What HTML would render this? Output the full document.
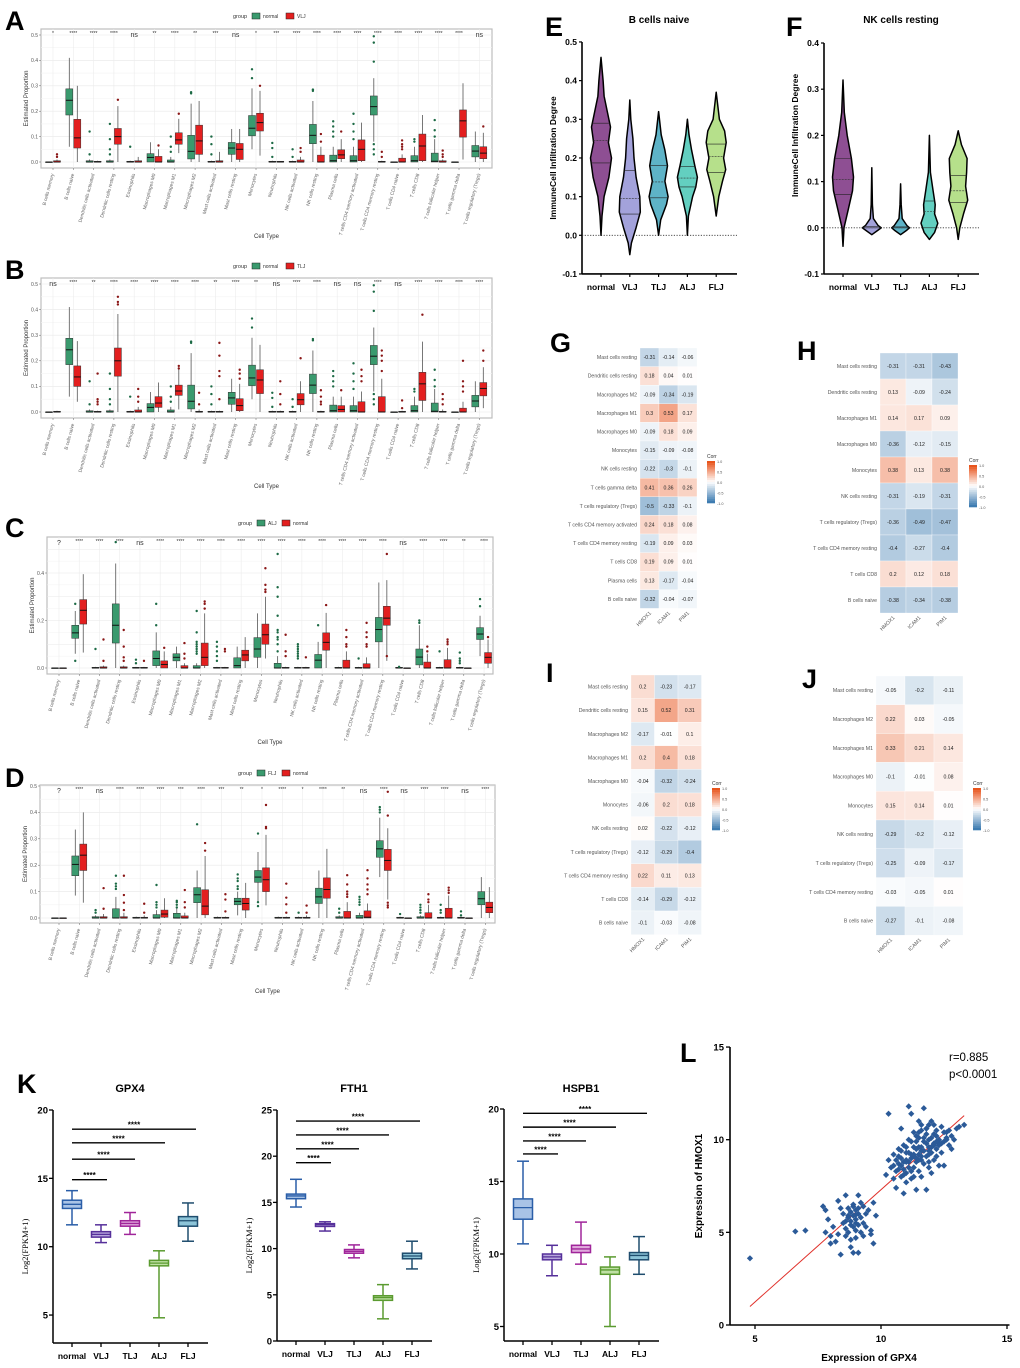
<!DOCTYPE html>
<html><head><meta charset="utf-8"><style>
body{margin:0;background:#fff}
svg{display:block;font-family:"Liberation Sans",Arial,sans-serif}
</style></head><body>
<svg id="fig" width="1020" height="1368" viewBox="0 0 1020 1368" xmlns="http://www.w3.org/2000/svg"></svg>
<script>
// ---------- DATA ----------
const cellTypes=["B cells memory","B cells naive","Dendritic cells activated","Dendritic cells resting","Eosinophils","Macrophages M0","Macrophages M1","Macrophages M2","Mast cells activated","Mast cells resting","Monocytes","Neutrophils","NK cells activated","NK cells resting","Plasma cells","T cells CD4 memory activated","T cells CD4 memory resting","T cells CD4 naive","T cells CD8","T cells follicular helper","T cells gamma delta","T cells regulatory (Tregs)"];
// box stats: [q1, median, q3, whiskerLow, whiskerHigh]
const aNormal=[[0,0,0,0,0],[.185,.243,.288,.06,.41],[0,0,.005,0,.01],[0,0,.005,0,.01],[0,0,.003,0,.005],[0,.018,.033,0,.078],[0,0,.008,0,.02],[.012,.042,.105,0,.23],[0,0,.003,0,.005],[.03,.055,.077,0,.13],[.103,.133,.183,.05,.29],[0,0,.003,0,.005],[0,0,.003,0,.005],[.072,.105,.148,0,.24],[0,.005,.027,0,.06],[0,.005,.025,0,.06],[.185,.218,.26,.08,.33],[0,0,0,0,0],[0,.005,.025,0,.06],[0,.003,.035,0,.09],[0,0,0,0,0],[.02,.043,.065,0,.12]];
const aNormalOut=[[],[],[.12,.03],[.15,.09,.05,.03],[.06],[],[.1,.06,.04],[.27,.275],[.1,.07,.03],[],[.33,.365],[.075,.055,.02],[.05,.02],[.28,.285],[.16,.14,.12,.1],[.19,.15,.12,.09],[.495,.47,.395,.07,.05,.03],[],[.09,.08],[.165,.125,.1],[],[]];
const aVLJ=[[0,0,.005,0,.01],[.055,.095,.168,0,.3],[0,0,.003,0,.005],[.07,.1,.132,0,.22],[0,0,.005,0,.02],[0,0,.022,0,.05],[.07,.087,.115,.035,.17],[.03,.083,.145,0,.24],[0,0,.005,0,.04],[.01,.05,.073,0,.13],[.122,.155,.192,.025,.28],[0,0,.003,0,.003],[0,0,.008,0,.02],[0,0,.027,0,.06],[.013,.028,.048,0,.09],[.005,.05,.087,0,.155],[0,0,.003,0,.005],[0,0,.015,0,.03],[.005,.063,.11,0,.185],[0,0,.005,0,.01],[.098,.162,.205,.01,.31],[.013,.035,.06,0,.115]];
const aVLJOut=[[.02,.03],[],[],[.245],[],[.065],[.19],[],[],[],[.3],[],[.055,.04],[.11,.08],[.12],[],[.04,.02],[.085,.07,.06,.05],[],[.045,.03,.02],[],[.14]];
const aSig=["*","****","****","****","ns","**","****","**","***","ns","*","***","****","****","****","****","****","****","****","****","****","ns"];

const bTLJ=[[0,0,.003,0,.005],[.1,.137,.18,.04,.277],[0,0,.003,0,.005],[.14,.2,.25,0,.383],[0,0,.008,0,.02],[.018,.035,.06,0,.115],[.065,.082,.105,.01,.175],[0,0,.003,0,.01],[0,0,.003,0,.005],[.005,.025,.052,0,.11],[.072,.125,.165,0,.262],[0,0,.003,0,.005],[.028,.048,.072,0,.12],[0,0,.003,0,.005],[0,.01,.025,0,.06],[0,0,.04,0,.08],[0,0,.06,0,.13],[0,0,.003,0,.005],[.045,.11,.155,0,.275],[0,0,.003,0,.01],[0,0,.015,0,.04],[.063,.092,.115,.015,.175]];
const bTLJOut=[[],[],[.15,.05,.04,.03],[.45,.43,.42],[.09,.06,.04],[],[.18,.17],[.075,.03],[.27,.22,.16,.14,.05],[.165,.15,.13],[],[.12,.07,.03],[.21],[.085,.06,.04,.03],[.085],[.165,.14,.12],[.24,.22,.2,.16],[.045,.015],[.38],[.07,.05,.03],[.2,.12,.1,.08],[.24,.2]];
const bSig=["ns","****","**","****","****","****","****","****","**","****","**","ns","****","****","ns","ns","****","ns","****","****","****","****"];

const cALJ=[[0,0,0,0,0],[.125,.148,.18,.06,.24],[0,0,.003,0,.005],[.105,.18,.27,0,.44],[0,0,.003,0,.005],[.01,.04,.072,0,.15],[.03,.045,.06,0,.09],[0,0,.01,0,.02],[0,0,.003,0,.005],[0,.01,.043,0,.09],[.045,.08,.128,0,.23],[0,0,.02,0,.05],[0,0,.003,0,.005],[0,.033,.057,0,.11],[0,0,.003,0,.005],[0,0,.003,0,.005],[.11,.162,.213,0,.36],[0,0,.003,0,.005],[.013,.046,.08,0,.18],[0,0,.003,0,.005],[0,0,.003,0,.005],[.12,.143,.17,.05,.22]];
const cALJOut=[[],[.27,.03],[.08],[.53],[.035,.02],[.27,.18],[],[.24,.15,.11,.1,.09,.08,.07,.06],[.11,.09,.07,.05,.03],[],[],[.48,.34,.3,.22,.16,.15,.13,.12,.1,.07],[.1,.09,.08,.07,.06,.05,.04],[.18],[],[.04],[],[.005],[.2,.19],[.07],[.065,.04,.03,.02],[.29,.26]];
const cNormal=[[0,0,0,0,0],[.185,.243,.288,.065,.395],[0,0,.005,0,.01],[0,0,.005,0,.01],[0,0,.003,0,.005],[0,.015,.03,0,.07],[0,0,.01,0,.02],[.01,.045,.105,0,.23],[0,0,.003,0,.005],[.03,.055,.075,0,.13],[.1,.14,.185,.04,.3],[0,0,.003,0,.005],[0,0,.003,0,.005],[.075,.108,.148,0,.232],[0,0,.033,0,.07],[0,0,.018,0,.045],[.18,.21,.26,.03,.37],[0,0,0,0,0],[0,0,.025,0,.06],[0,0,.035,0,.085],[0,0,0,0,0],[.02,.045,.065,0,.12]];
const cNormalOut=[[],[],[.12,.03],[.16,.09,.045,.03],[.03],[.085],[.105,.06,.04],[.28,.27,.25],[.08,.07],[],[.42,.35,.33,.32],[.14,.07,.05],[.045],[.265],[.16,.13,.1,.09],[.19,.15,.13,.1,.09],[.48,.05],[],[.09,.07],[.12,.11,.1],[],[.13]];
const cSig=["?","****","****","****","ns","****","****","****","****","****","****","****","****","****","****","****","****","ns","****","****","**","****"];

const dFLJ=[[0,0,0,0,0],[.16,.203,.235,.085,.335],[0,0,.005,0,.01],[0,0,.035,0,.08],[0,0,.003,0,.005],[0,0,.013,0,.03],[0,0,.018,0,.04],[.058,.088,.115,0,.18],[0,0,.003,0,.005],[.05,.063,.075,.01,.1],[.135,.155,.18,.06,.25],[0,0,.003,0,.005],[0,0,.003,0,.005],[.055,.08,.113,0,.18],[0,0,.005,0,.01],[0,0,.01,0,.02],[.23,.262,.293,.155,.38],[0,0,.003,0,.005],[0,0,.005,0,.01],[0,0,.003,0,.005],[0,0,.003,0,.005],[.05,.073,.1,0,.155]];
const dFLJOut=[[],[],[.03,.02],[.16,.13,.12,.11],[],[.125,.06,.05,.04],[.065,.06,.05,.04],[.355],[],[.165,.15,.14,.12,.11],[.32,.06,.045],[],[.02],[],[.035,.02],[.08,.07,.06,.05],[.42,.41,.4],[.015],[.05,.04,.03,.02],[.05,.03,.02],[.025,.01],[]];
const dNormal=[[0,0,0,0,0],[.18,.238,.28,.058,.4],[0,0,.005,0,.015],[0,0,.005,0,.02],[0,0,.003,0,.01],[.003,.015,.03,0,.075],[0,0,.008,0,.02],[.012,.045,.107,0,.235],[0,0,.003,0,.005],[.03,.055,.075,0,.133],[.1,.145,.19,.048,.315],[0,0,.003,0,.005],[0,0,.003,0,.01],[.075,.108,.152,0,.262],[0,0,.025,0,.06],[0,.003,.027,0,.055],[.18,.218,.26,.07,.34],[0,0,0,0,0],[0,0,.02,0,.05],[0,0,.037,0,.085],[0,0,0,0,0],[.02,.04,.06,0,.117]];
const dNormalOut=[[],[],[.113,.035],[.16,.087,.058,.03],[.054,.02],[],[.106,.06,.04],[.284,.255],[.09,.07,.025],[],[.428,.345,.34],[.13,.077,.052,.02],[.047,.02],[],[.162,.127,.1,.09,.08],[.181,.15,.127,.108,.09],[.478,.388,.058,.048,.04],[],[.09,.07,.06],[.115,.105,.095],[],[]];
const dSig=["?","****","ns","****","****","****","***","****","***","**","*","****","*","****","**","ns","****","ns","****","****","ns","****"];

// heatmaps
const hmCols=["HMOX1","ICAM1","PIM1"];
const gRows=["Mast cells resting","Dendritic cells resting","Macrophages M2","Macrophages M1","Macrophages M0","Monocytes","NK cells resting","T cells gamma delta","T cells regulatory (Tregs)","T cells CD4 memory activated","T cells CD4 memory resting","T cells CD8","Plasma cells","B cells naive"];
const gVals=[[-.31,-.14,-.06],[.18,.04,.01],[-.09,-.34,-.19],[.3,.53,.17],[-.09,.18,.09],[-.15,-.09,-.08],[-.22,-.3,-.1],[.41,.36,.26],[-.5,-.33,-.1],[.24,.18,.08],[-.19,.09,.03],[.19,.09,.01],[.13,-.17,-.04],[-.32,-.04,-.07]];
const hRows=["Mast cells resting","Dendritic cells resting","Macrophages M1","Macrophages M0","Monocytes","NK cells resting","T cells regulatory (Tregs)","T cells CD4 memory resting","T cells CD8","B cells naive"];
const hVals=[[-.31,-.31,-.43],[.13,-.09,-.24],[.14,.17,.09],[-.36,-.12,-.15],[.38,.13,.38],[-.31,-.19,-.31],[-.36,-.49,-.47],[-.4,-.27,-.4],[.2,.12,.18],[-.38,-.34,-.38]];
const iRows=["Mast cells resting","Dendritic cells resting","Macrophages M2","Macrophages M1","Macrophages M0","Monocytes","NK cells resting","T cells regulatory (Tregs)","T cells CD4 memory resting","T cells CD8","B cells naive"];
const iVals=[[.2,-.23,-.17],[.15,.52,.31],[-.17,-.01,.1],[.2,.4,.18],[-.04,-.32,-.24],[-.06,.2,.18],[.02,-.22,-.12],[-.12,-.29,-.4],[.22,.11,.13],[-.14,-.29,-.12],[-.1,-.03,-.08]];
const jRows=["Mast cells resting","Macrophages M2","Macrophages M1","Macrophages M0","Monocytes","NK cells resting","T cells regulatory (Tregs)","T cells CD4 memory resting","B cells naive"];
const jVals=[[-.05,-.2,-.11],[.22,.03,-.05],[.33,.21,.14],[-.1,-.01,.08],[.15,.14,.01],[-.29,-.2,-.12],[-.25,-.09,-.17],[-.03,-.05,.01],[-.27,-.1,-.08]];

// violins
const groups=["normal","VLJ","TLJ","ALJ","FLJ"];
const eLevels=[[0,.05,.1,.15,.2,.24,.28,.32,.36,.4,.46],[-.05,-.02,.02,.06,.1,.15,.2,.25,.3,.35],[0,.04,.08,.1,.14,.18,.22,.26,.32],[0,.05,.1,.125,.15,.18,.22,.26,.3],[.05,.1,.14,.17,.2,.24,.27,.3,.37]];
const eDens=[[0,.1,.3,.75,1,.7,.9,.6,.3,.2,0],[0,.15,.6,1,.95,.6,.4,.3,.1,0],[0,.2,.75,.9,.6,.85,.6,.25,0],[0,.1,.5,.8,.95,.7,.4,.15,0],[0,.25,.6,.9,.7,.95,.8,.3,0]];
const eQuart=[[.187,.245,.29],[.055,.095,.168],[.097,.138,.18],[.125,.148,.178],[.162,.204,.236]];
const fLevels=[[-.04,0,.04,.08,.11,.15,.2,.25,.32],[-.015,-.005,0,.005,.02,.05,.13],[-.015,-.005,0,.005,.02,.05,.095],[-.025,-.01,.01,.03,.05,.08,.12,.2],[-.025,0,.03,.06,.09,.12,.15,.18,.21]];
const fDens=[[0,.1,.5,.9,1,.8,.4,.12,0],[0,.6,.9,.6,.15,.06,0],[0,.6,.85,.6,.15,.06,0],[0,.5,.8,.5,.55,.35,.1,0],[0,.15,.5,.9,.7,.8,.85,.3,0]];
const fQuart=[[.072,.105,.15],[0,0,.003],[0,0,.002],[0,.035,.058],[.055,.08,.113]];

// K boxes: [lo, q1, med, q3, hi]
const gpx4=[[11.6,12.8,13.1,13.4,14.1],[10.3,10.7,10.9,11.1,11.6],[10.9,11.5,11.7,11.9,12.5],[4.8,8.6,8.8,9.0,9.7],[10.4,11.5,11.9,12.2,13.2]];
const fth1=[[14.5,15.4,15.7,15.9,17.5],[11.9,12.4,12.6,12.7,12.9],[9.0,9.5,9.7,9.9,10.4],[2.4,4.4,4.7,4.9,6.1],[7.8,8.9,9.2,9.5,10.8]];
const hspb1=[[10.7,12.4,13.2,13.8,16.4],[8.5,9.6,9.8,10.0,10.6],[9.3,10.1,10.35,10.6,12.2],[5.0,8.6,8.9,9.1,9.8],[8.6,9.6,9.9,10.1,11.2]];
const gpx4Sig=[14.9,16.4,17.6,18.6];
const fth1Sig=[19.3,20.8,22.3,23.8];
const hspb1Sig=[16.9,17.8,18.75,19.7];

// L scatter
const scatterGPX4=[4.8,6.6,7.0,7.7,7.8,7.8,7.9,8.0,8.0,8.1,8.2,8.3,8.3,8.4,8.5,8.5,8.6,8.6,8.6,8.7,8.7,8.7,8.8,8.8,8.8,8.8,8.9,8.9,8.9,8.9,9.0,9.0,9.0,9.0,9.1,9.1,9.1,9.1,9.2,9.2,9.2,9.3,9.3,9.3,9.4,9.4,9.5,9.6,9.6,9.7,9.7,9.8,8.4,8.6,9.0,8.8,8.9,9.1,8.7,9.0,
10.2,10.3,10.3,10.4,10.5,10.5,10.6,10.6,10.7,10.7,10.8,10.8,10.8,10.9,10.9,11.0,11.0,11.0,11.1,11.1,11.1,11.2,11.2,11.2,11.3,11.3,11.4,11.4,11.4,11.5,11.5,11.5,11.6,11.6,11.6,11.7,11.7,11.7,11.8,11.8,11.8,11.9,11.9,11.9,12.0,12.0,12.0,12.1,12.1,12.2,12.2,12.3,12.3,12.4,12.4,12.5,12.5,12.6,12.7,12.8,12.8,13.1,13.3,10.9,11.3,11.6,12.0,11.1,11.9,12.2,10.6,11.4,11.8,12.1,11.5,10.8,11.0,11.3,11.7,12.0,12.3,11.2,11.6,11.9,10.7,11.4,12.1,12.6,11.8,11.5,10.9,11.2,
10.5,10.7,10.9,11.0,11.2,11.3,11.5,11.6,11.8,11.9,12.1,12.2,12.4,12.5,12.6,12.7,12.9,13.0,10.8,11.1,11.4,11.7,12.0,12.3,11.0,11.3,11.6,11.9,12.2,11.5];
const scatterHMOX1=[3.6,5.05,5.1,6.4,5.0,6.2,5.7,4.4,4.8,5.3,4.5,6.7,4.9,3.8,5.5,6.0,7.0,5.2,4.8,6.3,5.8,5.0,4.2,5.6,6.1,4.6,6.5,5.3,3.9,5.9,6.2,5.1,4.7,5.7,7.0,6.0,5.4,3.9,6.6,5.8,5.0,6.4,5.5,4.8,6.0,5.3,6.2,5.1,4.9,6.6,4.4,5.9,6.3,5.6,5.95,5.4,6.4,6.3,5.9,5.5,
8.1,11.4,8.9,8.5,7.9,9.2,8.3,7.4,8.7,9.5,8.0,10.6,9.0,7.1,8.4,9.3,8.2,7.7,8.8,11.8,10.0,9.0,7.9,11.4,8.5,9.6,10.2,8.8,7.3,9.2,11.0,8.3,10.5,9.4,8.0,9.9,11.7,8.7,10.3,9.1,7.3,10.8,9.6,8.5,10.1,9.3,11.0,9.8,8.9,10.5,9.5,10.0,8.6,10.7,9.3,9.9,8.6,10.4,9.7,10.2,9.5,10.7,10.8,9.7,10.4,8.9,8.2,8.5,10.0,9.1,8.9,9.9,9.8,10.3,9.6,8.6,8.8,9.1,9.4,9.6,9.8,9.2,9.6,9.4,8.4,9.0,9.7,10.1,10.6,8.9,8.8,8.3,
8.6,9.1,8.1,9.6,9.9,9.2,10.1,10.8,10.6,9.2,10.8,10.2,9.8,10.4,10.0,10.5,10.0,10.6,9.4,9.3,9.5,10.1,9.6,9.7,8.9,8.0,9.1,8.8,9.9,10.4];
const fitLine=[[4.8,1.0],[13.3,11.3]];

// ---------- HELPERS ----------
const NS='http://www.w3.org/2000/svg';
const svg=document.getElementById('fig');
function mk(tag,a,p){const e=document.createElementNS(NS,tag);for(const k in a)e.setAttribute(k,a[k]);(p||svg).appendChild(e);return e;}
function tx(x,y,s,a,p){const e=mk('text',Object.assign({x:x,y:y},a),p);e.textContent=s;return e;}
function letter(ch,x,y){const t=tx(x,y,ch,{'font-size':27,'font-weight':'bold',fill:'#000'});

}

// ---------- BOX PANELS A-D ----------
function boxPanel(c){
 const g=mk('g',{});
 
 
 const Y=v=>c.y0-v*c.k, X=i=>c.x0+i*c.dx;
 const fr=mk('rect',{x:c.fx0,y:c.fy0,width:c.fx1-c.fx0,height:c.fy1-c.fy0,fill:'#fff',stroke:'#bdbdbd','stroke-width':1.2},g);
 
 
 for(let s=0;s<=10;s++){const v=s*0.05;const y=Y(v);if(y<c.fy0+1)continue;
  mk('line',{x1:c.fx0,x2:c.fx1,y1:y,y2:y,stroke:s%2?'#f3f3f3':'#e8e8e8','stroke-width':0.6},g);}
 for(let i=0;i<cellTypes.length;i++)mk('line',{x1:X(i),x2:X(i),y1:c.fy0,y2:c.fy1,stroke:'#ececec','stroke-width':0.6},g);
 c.ticks.forEach(v=>{const t=tx(c.fx0-3,Y(v)+1.8,v.toFixed(1),{'font-size':5,'text-anchor':'end',fill:'#555'},g);
  
  
  mk('line',{x1:c.fx0-2,x2:c.fx0,y1:Y(v),y2:Y(v),stroke:'#666','stroke-width':0.5},g);});
 const yt=tx(0,0,'Estimated Proportion',{'font-size':6,'text-anchor':'middle',fill:'#333',transform:`translate(${c.fx0-13},${(c.fy0+c.fy1)/2}) rotate(-90)`},g);
 
 
 const xt=tx((c.fx0+c.fx1)/2,c.fy1+70,'Cell Type',{'font-size':6,'text-anchor':'middle',fill:'#333'},g);
 
 
 const lg=mk('g',{},g);
 
 
 tx(c.lx,c.ly+2,'group',{'font-size':5.5,fill:'#333'},lg);
 mk('rect',{x:c.lx+19,y:c.ly-3,width:8,height:6,fill:'#3a9a6e',stroke:'#222','stroke-width':0.5},lg);
 tx(c.lx+30,c.ly+2,c.g1,{'font-size':5,fill:'#333'},lg);
 const off=c.g1.length*3+35;
 mk('rect',{x:c.lx+off,y:c.ly-3,width:8,height:6,fill:'#e31f1f',stroke:'#222','stroke-width':0.5},lg);
 tx(c.lx+off+11,c.ly+2,c.g2,{'font-size':5,fill:'#333'},lg);
 const drawBox=(d,out,cx,fill,oc,nm)=>{
  const bg=mk('g',{},g);
  
  
  const w=7;
  mk('line',{x1:cx,x2:cx,y1:Y(d[3]),y2:Y(d[4]),stroke:'#555','stroke-width':0.8},bg);
  mk('rect',{x:cx-w/2,y:Y(d[2]),width:w,height:Math.max(0.6,Y(d[0])-Y(d[2])),fill:fill,stroke:'#333','stroke-width':0.5},bg);
  mk('line',{x1:cx-w/2,x2:cx+w/2,y1:Y(d[1]),y2:Y(d[1]),stroke:'#111','stroke-width':1},bg);
  out.forEach(v=>mk('circle',{cx:cx,cy:Y(v),r:1.2,fill:oc},bg));
 };
 for(let i=0;i<cellTypes.length;i++){
  drawBox(c.d1[i],c.o1[i],X(i)-4,'#3a9a6e','#1c6a45','box-'+c.g1.toLowerCase()+'-'+i);
  drawBox(c.d2[i],c.o2[i],X(i)+4,'#e31f1f','#8a1616','box-'+c.g2.toLowerCase()+'-'+i);
  const s=c.sig[i];
  const st=tx(X(i),c.fy0+(s==='ns'||s==='?'?8:6),s,{'font-size':s==='ns'||s==='?'?7:5,'text-anchor':'middle',fill:'#333'},g);
  
  
  mk('line',{x1:X(i),x2:X(i),y1:c.fy1,y2:c.fy1+2,stroke:'#666','stroke-width':0.5},g);
  const lt=tx(0,0,cellTypes[i],{'font-size':4.8,'text-anchor':'end',fill:'#666',transform:`translate(${X(i)+1},${c.fy1+6}) rotate(-75)`},g);
  
  
 }
}
boxPanel({name:'panel-a-boxplot',fx0:41,fx1:492,fy0:29,fy1:168,y0:162,k:254,x0:53,dx:20.3,ticks:[0,.1,.2,.3,.4,.5],lx:233,ly:16,g1:'normal',g2:'VLJ',d1:aNormal,o1:aNormalOut,d2:aVLJ,o2:aVLJOut,sig:aSig});
boxPanel({name:'panel-b-boxplot',fx0:41,fx1:492,fy0:278,fy1:418,y0:412,k:256,x0:53,dx:20.3,ticks:[0,.1,.2,.3,.4,.5],lx:233,ly:266,g1:'normal',g2:'TLJ',d1:aNormal,o1:aNormalOut,d2:bTLJ,o2:bTLJOut,sig:bSig});
boxPanel({name:'panel-c-boxplot',fx0:47,fx1:493,fy0:537,fy1:674,y0:668,k:237.5,x0:59,dx:20.24,ticks:[0,.2,.4],lx:238,ly:523,g1:'ALJ',g2:'normal',d1:cALJ,o1:cALJOut,d2:cNormal,o2:cNormalOut,sig:cSig});
boxPanel({name:'panel-d-boxplot',fx0:40,fx1:495,fy0:785,fy1:923,y0:918,k:264,x0:59,dx:20.3,ticks:[0,.1,.2,.3,.4,.5],lx:238,ly:773,g1:'FLJ',g2:'normal',d1:dFLJ,o1:dFLJOut,d2:dNormal,o2:dNormalOut,sig:dSig});

// ---------- VIOLINS E,F ----------
const vColors=['#8e4f93','#a3a2db','#5eb3c7','#63cfc0','#b6e08b'];
function violinPanel(c){
 const g=mk('g',{});
 
 
 const Y=v=>c.y0-v*c.k;
 const tt=tx(c.tx,23,c.title,{'font-size':10,'font-weight':'bold','text-anchor':'middle'},g);
 
 
 mk('line',{x1:c.ax,x2:c.ax,y1:Y(c.ymax),y2:Y(-0.1),stroke:'#000','stroke-width':1.6},g);
 mk('line',{x1:c.ax,x2:c.ax+155,y1:Y(-0.1),y2:Y(-0.1),stroke:'#000','stroke-width':1.6},g);
 mk('line',{x1:c.ax,x2:c.ax+155,y1:Y(0),y2:Y(0),stroke:'#333','stroke-width':0.9,'stroke-dasharray':'1.2,1.5'},g);
 c.ticks.forEach(v=>{mk('line',{x1:c.ax-3,x2:c.ax,y1:Y(v),y2:Y(v),stroke:'#000','stroke-width':1.2},g);
  const t=tx(c.ax-5,Y(v)+3,v.toFixed(1),{'font-size':8.5,'font-weight':'bold','text-anchor':'end'},g);
  
  });
 const yt=tx(0,0,'ImmuneCell Infiltration Degree',{'font-size':8.5,'font-weight':'bold','text-anchor':'middle',transform:`translate(${c.ax-26},${Y(0.2)}) rotate(-90)`},g);
 
 
 groups.forEach((gn,i)=>{
  const cx=c.x0+i*c.dx, L=c.lv[i], D=c.dn[i], W=10.5;
  const hw=v=>{for(let j=0;j<L.length-1;j++)if(v>=L[j]&&v<=L[j+1]){const t=(v-L[j])/(L[j+1]-L[j]);return (D[j]+(D[j+1]-D[j])*t)*W;}return 0;};
  let pts=[];for(let j=0;j<L.length;j++)pts.push([cx+D[j]*W,Y(L[j])]);
  for(let j=L.length-1;j>=0;j--)pts.push([cx-D[j]*W,Y(L[j])]);
  const p=mk('path',{d:'M'+pts.map(q=>q[0].toFixed(1)+','+q[1].toFixed(1)).join('L')+'Z',fill:vColors[i],stroke:'#000','stroke-width':1.5,'stroke-linejoin':'round'},g);
  
  
  c.q[i].forEach((v,k)=>{const h=hw(v);mk('line',{x1:cx-h,x2:cx+h,y1:Y(v),y2:Y(v),stroke:k===1?'#333':'#222','stroke-width':0.6,'stroke-dasharray':k===1?'2,1':'none'},g);});
  mk('line',{x1:cx,x2:cx,y1:Y(-0.1),y2:Y(-0.1)+3,stroke:'#000','stroke-width':1.2},g);
  const xl=tx(cx,Y(-0.1)+16,gn,{'font-size':8.5,'font-weight':'bold','text-anchor':'middle'},g);
  
  
 });
}
violinPanel({name:'panel-e-violin',title:'B cells naive',tx:659,ax:582,y0:235.3,k:386.7,ymax:.5,ticks:[-.1,0,.1,.2,.3,.4,.5],x0:601,dx:28.8,lv:eLevels,dn:eDens,q:eQuart});
violinPanel({name:'panel-f-violin',title:'NK cells resting',tx:901,ax:824,y0:227.8,k:462,ymax:.4,ticks:[-.1,0,.1,.2,.3,.4],x0:843,dx:28.8,lv:fLevels,dn:fDens,q:fQuart});

// ---------- HEATMAPS ----------
function corrColor(v){const a=Math.min(1,Math.abs(v));const c=v<0?[62,124,177]:[232,84,28];
 const m=k=>Math.round(255+(c[k]-255)*a);return `rgb(${m(0)},${m(1)},${m(2)})`;}
function heat(c){
 const g=mk('g',{});
 
 
 c.rows.forEach((r,i)=>{
  const y=c.top+i*c.rh;
  const rl=tx(c.x0-3,y+c.rh/2+1.8,r,{'font-size':5.2,'text-anchor':'end',fill:'#555'},g);
  
  
  c.vals[i].forEach((v,j)=>{
   const cell=mk('rect',{x:c.x0+j*c.cw,y:y,width:c.cw,height:c.rh,fill:corrColor(v),stroke:'#fff','stroke-width':0.3},g);
   
   
   tx(c.x0+(j+.5)*c.cw,y+c.rh/2+1.8,String(v),{'font-size':5.2,'text-anchor':'middle',fill:'#222'},g);
  });
 });
 const bot=c.top+c.rows.length*c.rh;
 hmCols.forEach((h,j)=>{const t=tx(0,0,h,{'font-size':5.2,'text-anchor':'end',fill:'#555',transform:`translate(${c.x0+(j+.5)*c.cw+2},${bot+5}) rotate(-45)`},g);
  
  });
 const lg=mk('g',{},g);
 
 
 tx(c.lx,c.ly-3,'Corr',{'font-size':5,fill:'#333'},lg);
 const n=20;for(let k=0;k<n;k++){const v=1-2*k/(n-1);mk('rect',{x:c.lx,y:c.ly+k*42/n,width:8,height:42/n+0.3,fill:corrColor(v)},lg);}
 [1,.5,0,-.5,-1].forEach((v,k)=>tx(c.lx+10,c.ly+k*10.5+2,v.toFixed(1),{'font-size':3.8,fill:'#555'},lg));
}
heat({name:'panel-g-heatmap',rows:gRows,vals:gVals,x0:640,cw:19,top:348,rh:18.6,lx:707,ly:461});
heat({name:'panel-h-heatmap',rows:hRows,vals:hVals,x0:880,cw:26,top:353,rh:26,lx:969,ly:465});
heat({name:'panel-i-heatmap',rows:iRows,vals:iVals,x0:631,cw:23.5,top:675,rh:23.6,lx:712,ly:788});
heat({name:'panel-j-heatmap',rows:jRows,vals:jVals,x0:876,cw:29,top:676,rh:28.8,lx:973,ly:788});

// ---------- K BOX PLOTS ----------
const kColors=[['#2a5ea8','#a9c3e6'],['#56309a','#b6a6dc'],['#a0259a','#e0a9dc'],['#5b9b30','#bfe0a4'],['#1f4d6e','#8cc4d8']];
function kPanel(c){
 const g=mk('g',{});
 
 
 const Y=v=>c.y20+(20-v)*c.k, X=i=>c.x0+i*29;
 const t=tx(X(2),1092,c.title,{'font-size':11,'font-weight':'bold','text-anchor':'middle'},g);
 
 
 mk('line',{x1:c.ax,x2:c.ax,y1:Y(c.ymax),y2:c.bot,stroke:'#000','stroke-width':1.5},g);
 mk('line',{x1:c.ax,x2:c.ax+155,y1:c.bot,y2:c.bot,stroke:'#000','stroke-width':1.5},g);
 c.ticks.forEach(v=>{mk('line',{x1:c.ax-4,x2:c.ax,y1:Y(v),y2:Y(v),stroke:'#000','stroke-width':1.3},g);
  const tl=tx(c.ax-5,Y(v)+3.5,String(v),{'font-size':9.5,'font-weight':'bold','text-anchor':'end'},g);
  
  });
 const yt=tx(0,0,'Log2(FPKM+1)',{'font-family':'"Liberation Serif",serif','font-size':8.5,'text-anchor':'middle',transform:`translate(${c.ax-25},${(Y(c.ymax)+c.bot)/2+20}) rotate(-90)`},g);
 
 
 groups.forEach((gn,i)=>{
  const d=c.data[i],cx=X(i),col=kColors[i][0],fl=kColors[i][1];
  const bg=mk('g',{},g);
  
  
  mk('line',{x1:cx,x2:cx,y1:Y(d[0]),y2:Y(d[4]),stroke:col,'stroke-width':1.5},bg);
  mk('line',{x1:cx-6,x2:cx+6,y1:Y(d[0]),y2:Y(d[0]),stroke:col,'stroke-width':1.5},bg);
  mk('line',{x1:cx-6,x2:cx+6,y1:Y(d[4]),y2:Y(d[4]),stroke:col,'stroke-width':1.5},bg);
  mk('rect',{x:cx-9.5,y:Y(d[3]),width:19,height:Math.max(2,Y(d[1])-Y(d[3])),fill:fl,stroke:col,'stroke-width':1.5},bg);
  mk('line',{x1:cx-9.5,x2:cx+9.5,y1:Y(d[2]),y2:Y(d[2]),stroke:col,'stroke-width':1.3},bg);
  mk('line',{x1:cx,x2:cx,y1:c.bot,y2:c.bot+4,stroke:'#000','stroke-width':1.3},g);
  const xl=tx(cx,c.bot+16,gn,{'font-size':8.5,'font-weight':'bold','text-anchor':'middle'},g);
  
  
 });
 c.sig.forEach((v,k)=>{const x2=X(k+1)+[6,5,6,8][k];
  const l=mk('line',{x1:X(0),x2:x2,y1:Y(v),y2:Y(v),stroke:'#000','stroke-width':1.4},g);
  
  
  tx((X(0)+x2)/2,Y(v)-1.5,'****',{'font-size':8,'font-weight':'bold','text-anchor':'middle'},g);});
}
kPanel({name:'panel-k-gpx4',title:'GPX4',ax:53,x0:72,y20:1110,k:13.67,bot:1343,ymax:20,ticks:[5,10,15,20],data:gpx4,sig:gpx4Sig});
kPanel({name:'panel-k-fth1',title:'FTH1',ax:277,x0:296,y20:1110+5*9.24,k:9.24,bot:1341,ymax:25,ticks:[0,5,10,15,20,25],data:fth1,sig:fth1Sig});
kPanel({name:'panel-k-hspb1',title:'HSPB1',ax:504,x0:523,y20:1109,k:14.5,bot:1341,ymax:20,ticks:[5,10,15,20],data:hspb1,sig:hspb1Sig});

// ---------- L SCATTER ----------
(function(){
 const g=mk('g',{});
 
 
 const X=v=>755+(v-5)*25.2, Y=v=>1325-v*18.53;
 mk('line',{x1:730,x2:730,y1:Y(15),y2:Y(0),stroke:'#000','stroke-width':1.6},g);
 mk('line',{x1:730,x2:X(15.1),y1:Y(0),y2:Y(0),stroke:'#000','stroke-width':1.6},g);
 [0,5,10,15].forEach(v=>{mk('line',{x1:726,x2:730,y1:Y(v),y2:Y(v),stroke:'#000','stroke-width':1.3},g);
  const t=tx(724,Y(v)+3.5,String(v),{'font-size':9.5,'font-weight':'bold','text-anchor':'end'},g);
  
  });
 [5,10,15].forEach(v=>{mk('line',{x1:X(v),x2:X(v),y1:Y(0),y2:Y(0)+4,stroke:'#000','stroke-width':1.3},g);
  const t=tx(X(v),Y(0)+17,String(v),{'font-size':9.5,'font-weight':'bold','text-anchor':'middle'},g);
  
  });
 const xt=tx(869,1361,'Expression of GPX4',{'font-size':10,'font-weight':'bold','text-anchor':'middle'},g);
 
 
 const yt=tx(0,0,'Expression of HMOX1',{'font-size':10,'font-weight':'bold','text-anchor':'middle',transform:`translate(702,1186) rotate(-90)`},g);
 
 
 const fl=mk('line',{x1:X(fitLine[0][0]),y1:Y(fitLine[0][1]),x2:X(fitLine[1][0]),y2:Y(fitLine[1][1]),stroke:'#e0302a','stroke-width':1},g);
 
 
 scatterGPX4.forEach((xv,i)=>{const x=X(xv),y=Y(scatterHMOX1[i]),r=3.1;
  const p=mk('path',{d:`M${x},${y-r}L${x+r},${y}L${x},${y+r}L${x-r},${y}Z`,fill:'#2b5a98'},g);
  
  });
 const a=tx(949,1061,'r=0.885',{'font-size':11.5},g);
 
 
 tx(949,1078,'p<0.0001',{'font-size':11.5},g);
})();

letter('A',5,30);letter('B',5,279);letter('C',5,537);letter('D',5,787);
letter('E',545,36);letter('F',786,36);letter('G',550,352);letter('H',797,360);
letter('I',546,682);letter('J',802,688);letter('K',17,1093);letter('L',680,1062);
</script>
</body></html>
